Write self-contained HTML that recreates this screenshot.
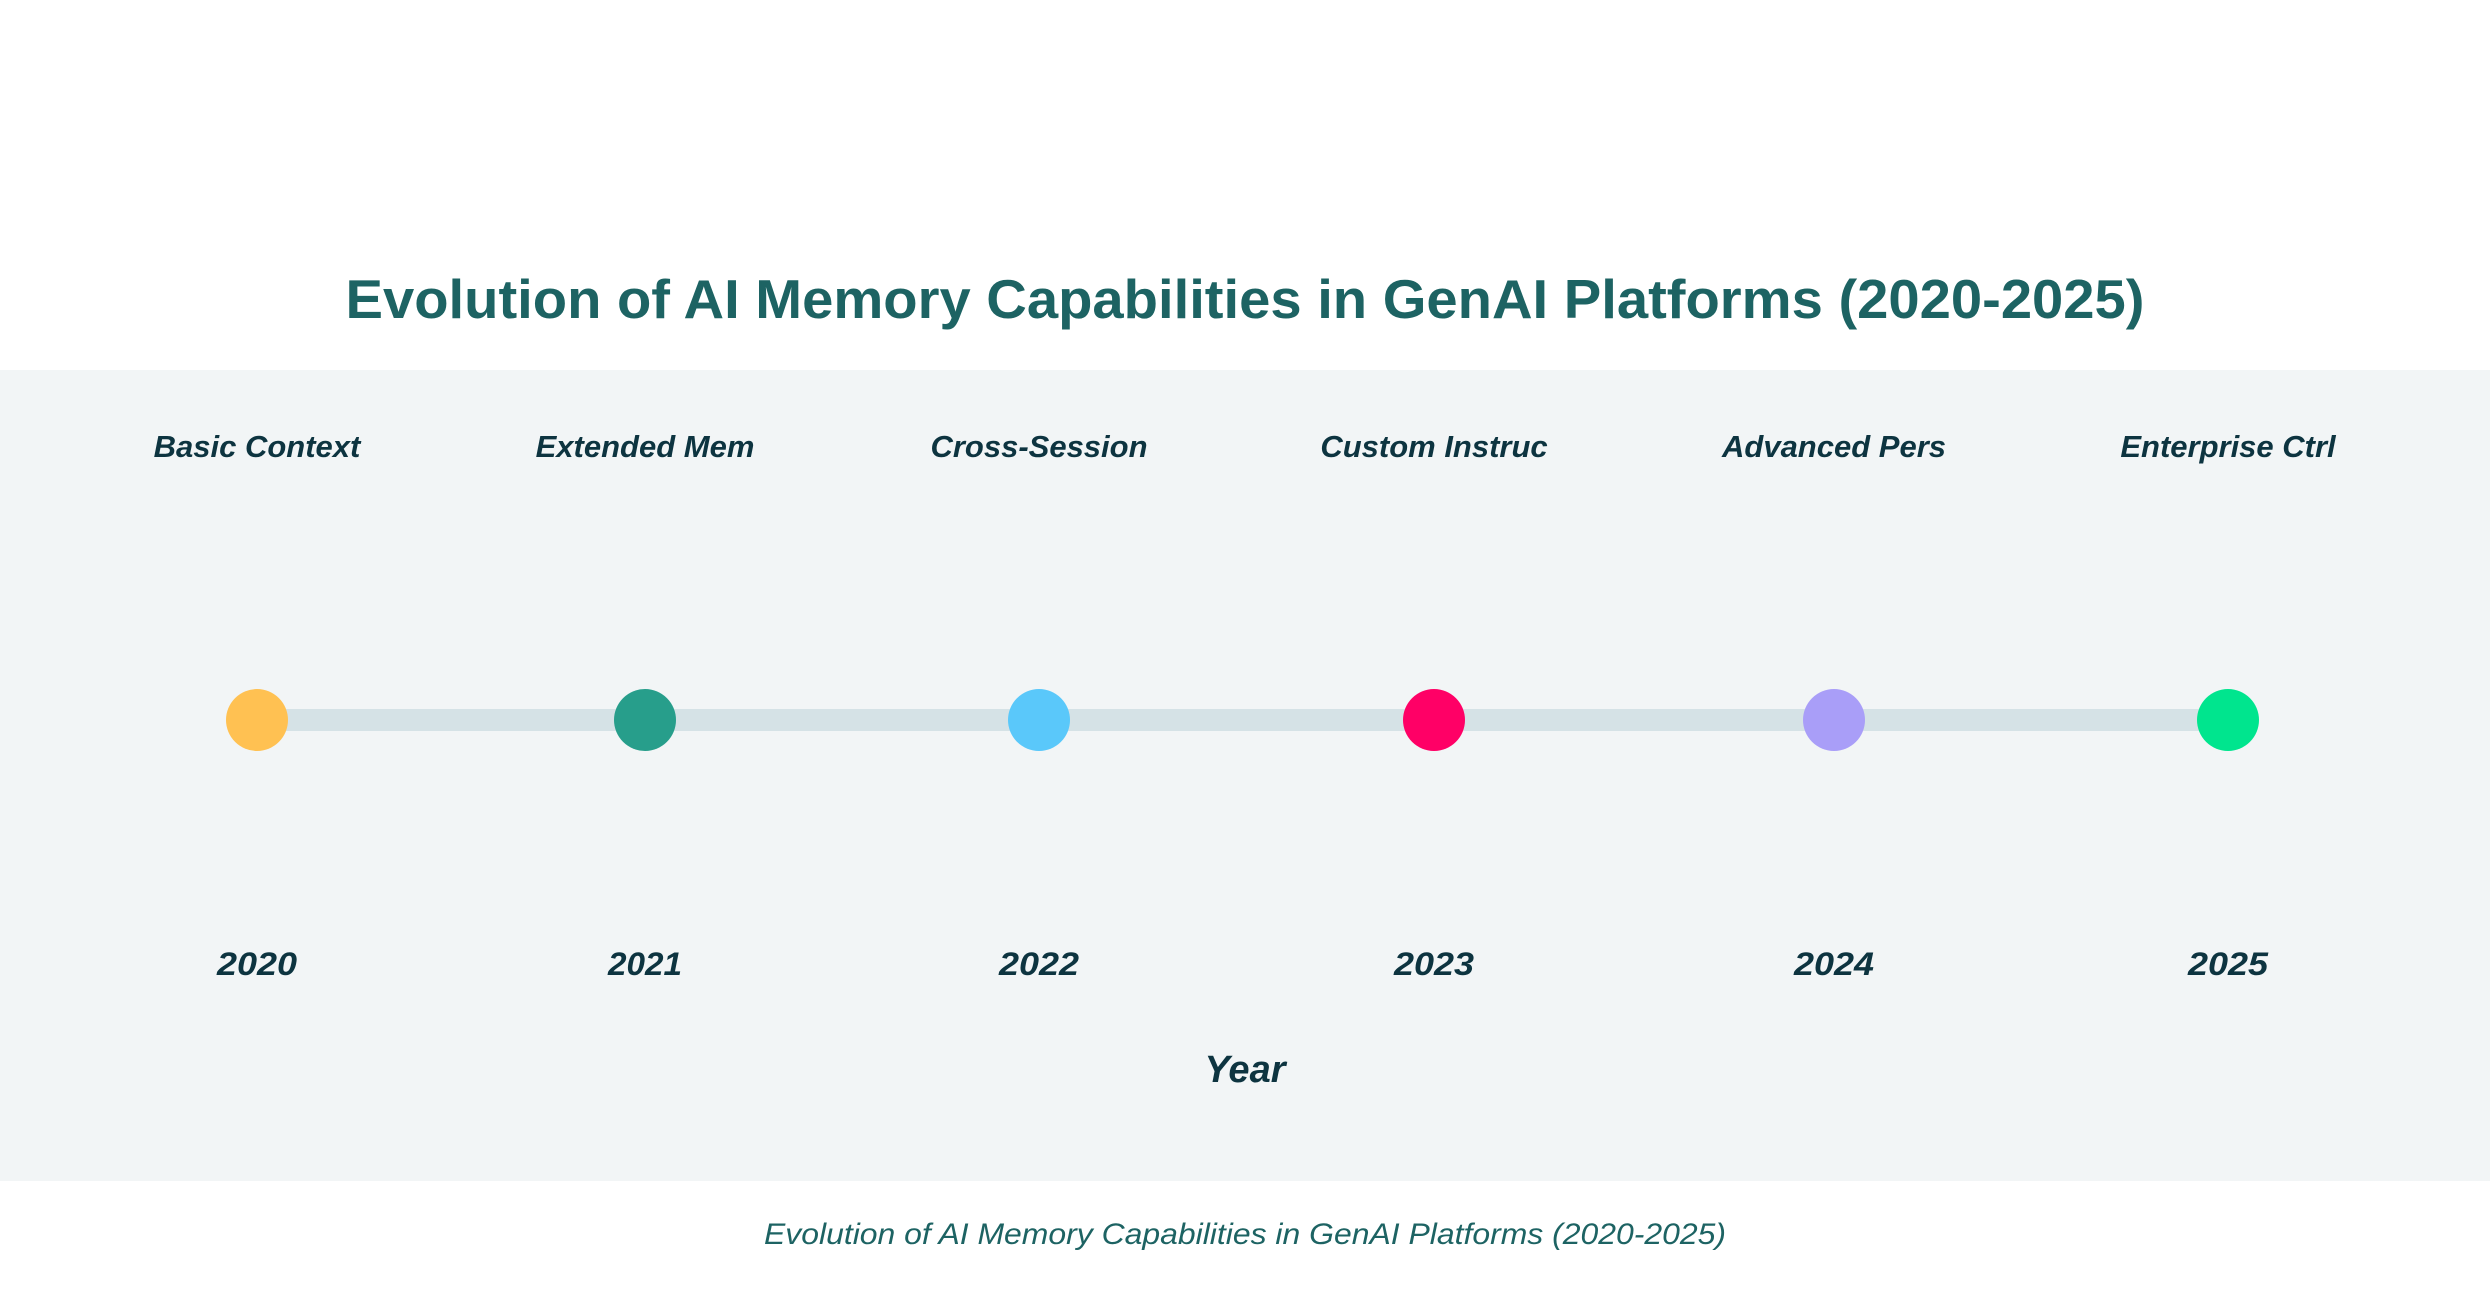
<!DOCTYPE html>
<html><head><meta charset="utf-8"><style>
html,body{margin:0;padding:0;width:2490px;height:1302px;background:#fff;overflow:hidden}
svg{display:block}
</style></head><body>
<svg width="2490" height="1302" xmlns="http://www.w3.org/2000/svg" font-family="Liberation Sans, sans-serif">
<rect x="0" y="0" width="2490" height="1302" fill="#ffffff"/>
<text x="1245" y="318" text-anchor="middle" font-size="55" font-weight="bold" fill="#1d6363" textLength="1799" lengthAdjust="spacingAndGlyphs">Evolution of AI Memory Capabilities in GenAI Platforms (2020-2025)</text>
<rect x="0" y="370" width="2490" height="811" fill="#f2f5f6"/>
<rect x="257" y="709" width="1971" height="22" fill="#d5e2e6"/>
<g font-size="31" font-weight="bold" font-style="italic" fill="#0d3440" text-anchor="middle">
<text x="257" y="457">Basic Context</text>
<text x="645" y="457">Extended Mem</text>
<text x="1039" y="457">Cross-Session</text>
<text x="1434" y="457">Custom Instruc</text>
<text x="1834" y="457">Advanced Pers</text>
<text x="2228" y="457">Enterprise Ctrl</text>
<g font-size="32">
<text x="257" y="975" textLength="80" lengthAdjust="spacingAndGlyphs">2020</text>
<text x="645" y="975" textLength="74" lengthAdjust="spacingAndGlyphs">2021</text>
<text x="1039" y="975" textLength="80" lengthAdjust="spacingAndGlyphs">2022</text>
<text x="1434" y="975" textLength="80" lengthAdjust="spacingAndGlyphs">2023</text>
<text x="1834" y="975" textLength="80" lengthAdjust="spacingAndGlyphs">2024</text>
<text x="2228" y="975" textLength="80" lengthAdjust="spacingAndGlyphs">2025</text>
</g>
<text x="1245" y="1082" font-size="38">Year</text>
</g>
<circle cx="257" cy="720" r="31" fill="#ffc152"/>
<circle cx="645" cy="720" r="31" fill="#279e8b"/>
<circle cx="1039" cy="720" r="31" fill="#5ac8fa"/>
<circle cx="1434" cy="720" r="31" fill="#ff0066"/>
<circle cx="1834" cy="720" r="31" fill="#a99ef8"/>
<circle cx="2228" cy="720" r="31" fill="#00e58e"/>
<text x="1245" y="1244" text-anchor="middle" font-size="30" font-style="italic" fill="#1d6363" textLength="962" lengthAdjust="spacingAndGlyphs">Evolution of AI Memory Capabilities in GenAI Platforms (2020-2025)</text>
</svg>
</body></html>
